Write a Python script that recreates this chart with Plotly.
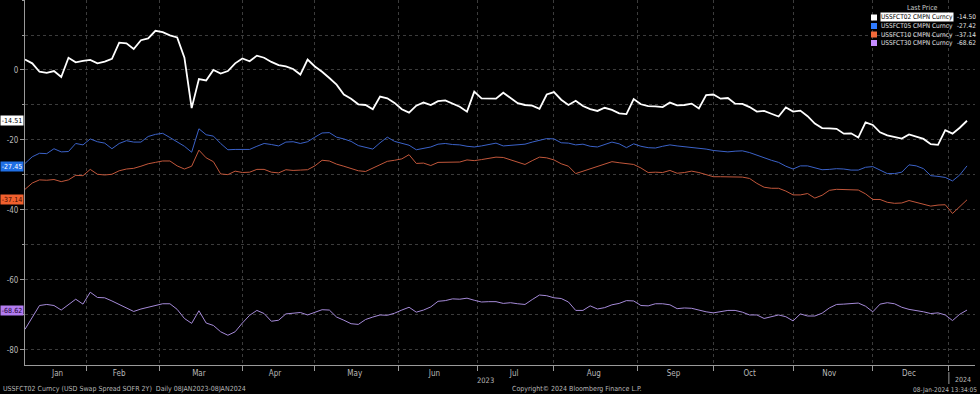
import pandas as pd
import plotly.graph_objects as go

# ---------------- data ----------------
# every second business day, 09-Jan-2023 .. 08-Jan-2024
dates = pd.bdate_range("2023-01-09", "2024-01-08")[::2]

ussfct02 = [3.0, 1.9, -0.5, -0.8, -0.3, -2.0, 3.5, 2.2, 2.6, 2.9,
            1.9, 2.4, 3.2, 7.8, 7.6, 6.0, 8.5, 9.0, 11.2, 10.8,
            9.9, 9.3, 3.5, -10.9, -2.6, -3.0, 0.0, -1.0, -0.3, 1.9,
            3.3, 2.5, 4.1, 3.5, 2.3, 1.4, 1.0, 0.3, -1.3, 3.0,
            1.0, -0.5, -2.3, -4.2, -7.0, -8.2, -9.8, -10.0, -11.2, -7.6,
            -8.1, -9.4, -11.2, -12.2, -10.2, -9.3, -10.0, -8.9, -8.7, -9.5,
            -10.5, -11.9, -6.2, -8.1, -8.1, -8.2, -6.5, -8.1, -9.5, -10.0,
            -10.2, -11.1, -7.0, -6.3, -8.5, -10.0, -8.8, -10.3, -11.2, -11.7,
            -10.8, -11.4, -12.4, -12.6, -8.3, -9.8, -10.3, -10.4, -10.6, -9.3,
            -10.1, -10.0, -9.6, -11.0, -7.2, -7.0, -8.2, -8.0, -9.6, -9.7,
            -10.6, -11.9, -11.7, -12.5, -13.3, -10.7, -11.9, -11.6, -13.2, -15.3,
            -16.6, -16.7, -16.8, -18.2, -18.1, -19.3, -15.0, -15.7, -17.8, -18.7,
            -19.2, -19.6, -18.4, -19.0, -19.7, -21.2, -21.4, -17.2, -18.2, -16.5,
            -14.5]

ussfct05 = [-26.7, -24.8, -23.8, -23.9, -22.5, -23.4, -23.3, -21.0, -21.4, -19.7,
            -20.5, -20.9, -22.5, -21.0, -20.2, -20.6, -20.6, -19.0, -18.4, -18.1,
            -19.3, -20.6, -21.8, -23.5, -16.8, -18.5, -18.9, -21.0, -22.8, -22.7,
            -22.8, -22.7, -21.8, -21.0, -21.3, -21.7, -20.6, -20.5, -21.0, -20.5,
            -19.2, -18.0, -17.9, -19.2, -19.7, -20.4, -21.6, -22.0, -22.6, -20.8,
            -19.2, -20.4, -21.0, -21.5, -22.8, -22.5, -22.0, -21.2, -21.0, -21.3,
            -21.4, -21.8, -22.0, -21.7, -21.4, -20.9, -21.7, -21.6, -21.4, -21.2,
            -20.6, -20.1, -19.6, -19.7, -20.8, -20.9, -21.4, -21.2, -21.8, -22.0,
            -21.2, -20.6, -21.1, -22.2, -21.1, -21.8, -22.2, -22.3, -21.8, -21.4,
            -21.7, -21.9, -22.0, -22.2, -22.6, -23.0, -23.3, -23.4, -23.2, -23.1,
            -23.6, -24.4, -25.1, -25.8, -26.4, -27.5, -28.3, -27.4, -27.4, -28.0,
            -28.5, -28.4, -28.2, -28.3, -28.6, -28.6, -27.8, -27.6, -28.5, -29.6,
            -29.6, -29.2, -27.1, -27.4, -28.2, -30.2, -30.4, -30.7, -31.7, -30.0,
            -27.4]

ussfct10 = [-34.1, -32.3, -31.4, -31.5, -31.3, -31.9, -31.4, -30.1, -30.2, -28.4,
            -29.8, -30.0, -29.8, -28.8, -28.3, -28.1, -27.5, -26.8, -26.4, -26.0,
            -26.0, -27.4, -28.3, -27.5, -22.9, -25.1, -26.2, -29.7, -29.9, -28.9,
            -29.3, -29.2, -28.4, -28.4, -29.2, -29.4, -28.5, -28.7, -28.6, -28.5,
            -27.4, -25.8, -26.0, -26.9, -27.5, -28.1, -28.8, -29.0, -28.0, -27.0,
            -26.1, -25.8, -25.4, -24.2, -26.7, -26.6, -27.3, -26.4, -26.3, -26.3,
            -26.3, -25.7, -25.9, -25.6, -25.3, -24.9, -25.0, -25.6, -26.4, -27.0,
            -25.9, -24.9, -25.1, -25.7, -26.8, -27.5, -29.6, -28.9, -28.2, -27.6,
            -26.7, -26.2, -26.5, -26.8, -27.0, -28.0, -29.3, -29.2, -29.3, -28.7,
            -29.5, -29.3, -28.9, -29.3, -29.9, -30.5, -30.5, -30.6, -30.6, -30.6,
            -31.0, -32.4, -33.5, -33.8, -33.8, -34.6, -35.7, -35.7, -35.3, -36.6,
            -35.8, -34.4, -34.1, -34.1, -34.1, -34.3, -35.4, -37.0, -37.0, -37.8,
            -38.1, -38.0, -37.3, -37.8, -38.3, -38.9, -38.6, -38.5, -41.0, -39.0,
            -37.1]

ussfct30 = [-74.1, -70.5, -67.3, -67.0, -67.3, -68.6, -67.0, -65.5, -66.9, -63.5,
            -65.0, -65.1, -66.0, -67.0, -68.1, -69.0, -68.3, -67.8, -67.5, -66.8,
            -66.8, -68.4, -71.0, -72.4, -68.8, -72.3, -73.0, -74.8, -75.8, -74.8,
            -72.3, -70.1, -68.7, -69.6, -71.8, -71.5, -69.7, -69.5, -69.3, -70.0,
            -69.3, -68.5, -68.6, -70.6, -71.5, -72.5, -72.7, -71.3, -70.6, -70.0,
            -70.1, -69.5, -68.6, -67.8, -69.2, -68.6, -67.7, -66.1, -65.9, -65.4,
            -65.5, -65.2, -65.8, -66.3, -66.2, -66.2, -66.7, -66.5, -66.8, -67.0,
            -65.6, -64.3, -64.5, -65.1, -65.3, -66.3, -68.7, -68.7, -67.4, -68.3,
            -67.9, -67.1, -66.7, -65.9, -66.0, -67.3, -67.4, -66.8, -66.8, -67.1,
            -68.2, -68.0, -68.1, -68.7, -69.1, -69.4, -69.1, -68.7, -68.7, -69.2,
            -70.0, -70.0, -71.0, -70.5, -70.0, -70.5, -71.7, -69.7, -70.3, -70.3,
            -69.5, -68.0, -67.0, -66.9, -66.8, -66.6, -67.5, -69.1, -66.9, -66.5,
            -66.8, -67.8, -68.4, -68.7, -69.1, -69.6, -69.4, -70.0, -71.6, -69.8,
            -68.6]

series_names = ["USSFCT02 CMPN Curncy", "USSFCT05 CMPN Curncy",
                "USSFCT10 CMPN Curncy", "USSFCT30 CMPN Curncy"]
legend_last = ["-14.50", "-27.42", "-37.14", "-68.62"]
tag_values = [-14.51, -27.45, -37.14, -68.62]

month_labels = ["Jan", "Feb", "Mar", "Apr", "May", "Jun",
                "Jul", "Aug", "Sep", "Oct", "Nov", "Dec"]
month_label_dates = ["2023-01-20", "2023-02-14", "2023-03-16", "2023-04-14",
                     "2023-05-16", "2023-06-15", "2023-07-17", "2023-08-16",
                     "2023-09-15", "2023-10-16", "2023-11-15", "2023-12-15"]
month_starts = ["2023-02-01", "2023-03-01", "2023-04-03", "2023-05-01",
                "2023-06-01", "2023-07-03", "2023-08-01", "2023-09-01",
                "2023-10-02", "2023-11-01", "2023-12-01", "2024-01-01"]
y_ticks = [0, -20, -40, -60, -80]

# ---------------- style ----------------
W, H = 980, 394
ML, MR, MT, MB = 25, 5, 0, 29
PW, PH = W - ML - MR, H - MT - MB

line_colors = ["#ffffff", "#3b62c8", "#c2573b", "#a58ad8"]
line_widths = [1.8, 1, 1, 1]
legend_colors = ["#ffffff", "#2f7bff", "#f26a3a", "#c68cff"]
tag_bg = ["#ffffff", "#1f6fe5", "#f0602e", "#b27cf0"]
tag_fg = ["#000000", "#ffffff", "#3a0a00", "#1a0030"]
FONT = "Liberation Sans Narrow, DejaVu Sans Condensed, Arial Narrow, Liberation Sans, sans-serif"
TXT = "#b8b8b8"
GRID = "#3c3c3c"


def px(xp):
    return (xp - ML) / PW


def py(yp):
    return (H - MB - yp) / PH


fig = go.Figure()
for vals, name, c, w in zip([ussfct02, ussfct05, ussfct10, ussfct30],
                            series_names, line_colors, line_widths):
    fig.add_trace(go.Scatter(x=dates, y=vals, mode="lines", name=name,
                             line=dict(color=c, width=w), showlegend=False,
                             hoverinfo="skip"))

fig.update_layout(
    width=W, height=H,
    margin=dict(l=ML, r=MR, t=MT, b=MB),
    paper_bgcolor="#000000", plot_bgcolor="#000000",
    font=dict(family=FONT, color=TXT, size=8),
    xaxis=dict(
        type="date",
        range=["2023-01-09", "2024-01-10 05:00"],
        rangebreaks=[dict(bounds=["sat", "mon"])],
        tickmode="array", tickvals=month_label_dates, ticktext=month_labels,
        ticks="", showgrid=False, zeroline=False,
        showline=True, linecolor="#9a9a9a", linewidth=1,
        tickfont=dict(size=8, color=TXT),
        minor=dict(tickmode="array", tickvals=month_starts, ticks="outside",
                   ticklen=5, tickcolor="#9a9a9a", showgrid=True,
                   gridcolor=GRID, griddash="dot", gridwidth=1),
    ),
    yaxis=dict(
        range=[-84.3, 20],
        tickmode="array", tickvals=y_ticks, ticktext=[str(v) for v in y_ticks],
        ticks="outside", ticklen=4, tickcolor="#9a9a9a",
        showgrid=True, gridcolor=GRID, griddash="dot", gridwidth=1,
        zeroline=False, showline=True, linecolor="#9a9a9a", linewidth=1,
        tickfont=dict(size=8, color=TXT),
        minor=dict(dtick=10, tick0=0, ticks="outside", ticklen=2,
                   tickcolor="#9a9a9a", showgrid=True, gridcolor=GRID,
                   griddash="dot", gridwidth=1),
    ),
)

ann = []
shapes = []


def text(xp, yp, s, anchor="left", size=7, color=TXT, **kw):
    return dict(x=px(xp), xref="paper", y=py(yp), yref="paper",
                xanchor=anchor, yanchor="middle", text=s, showarrow=False,
                font=dict(size=size, color=color), **kw)


# year labels
ann.append(dict(x="2023-07-05", xref="x", y=py(380.5), yref="paper", text="2023",
                xanchor="center", yanchor="middle",
                showarrow=False, font=dict(size=7.5, color=TXT)))
ann.append(dict(x="2024-01-05", xref="x", y=py(380), yref="paper", text="2024",
                xanchor="center", yanchor="middle",
                showarrow=False, font=dict(size=7, color=TXT)))
shapes.append(dict(type="line", xref="x", yref="paper", x0="2024-01-01", x1="2024-01-01",
                   y0=py(372), y1=py(384), line=dict(color="#9a9a9a", width=1)))

# footer
ann.append(text(1, 389, "USSFCT02 Curncy (USD Swap Spread SOFR 2Y)  Daily 08JAN2023-08JAN2024"))
ann.append(text(510, 389, "Copyright\u00a9 2024 Bloomberg Finance L.P."))
ann.append(text(979, 389.5, "08-Jan-2024 13:34:05", anchor="right", size=6.5))

# legend
ann.append(text(922, 8, "Last Price", anchor="center", color="#cccccc"))
rows = [17.5, 26, 34.5, 43]
for i, (name, val, c, r) in enumerate(zip(series_names, legend_last, legend_colors, rows)):
    shapes.append(dict(type="rect", xref="paper", yref="paper",
                       x0=px(871), x1=px(877), y0=py(r + 3), y1=py(r - 3),
                       fillcolor=c, line=dict(width=0)))
    ann.append(text(880, r, name, size=6.5,
                    color="#000000" if i == 0 else "#e0e0e0",
                    bgcolor="#ffffff" if i == 0 else None, borderpad=0))
    ann.append(text(978, r, val, anchor="right", size=6.5, color="#e0e0e0"))

# last-price tags on the left axis
for v, bg, fg in zip(tag_values, tag_bg, tag_fg):
    ann.append(dict(x=px(0), xref="paper", y=v, yref="y",
                    xanchor="left", yanchor="middle",
                    text="%.2f" % v, showarrow=False, bgcolor=bg,
                    width=22, height=9, borderpad=0,
                    font=dict(size=7, color=fg)))

fig.update_layout(annotations=ann, shapes=shapes)
fig.write_html("out.html", config={"displayModeBar": False},
               post_script="document.body.style.margin='0';")
